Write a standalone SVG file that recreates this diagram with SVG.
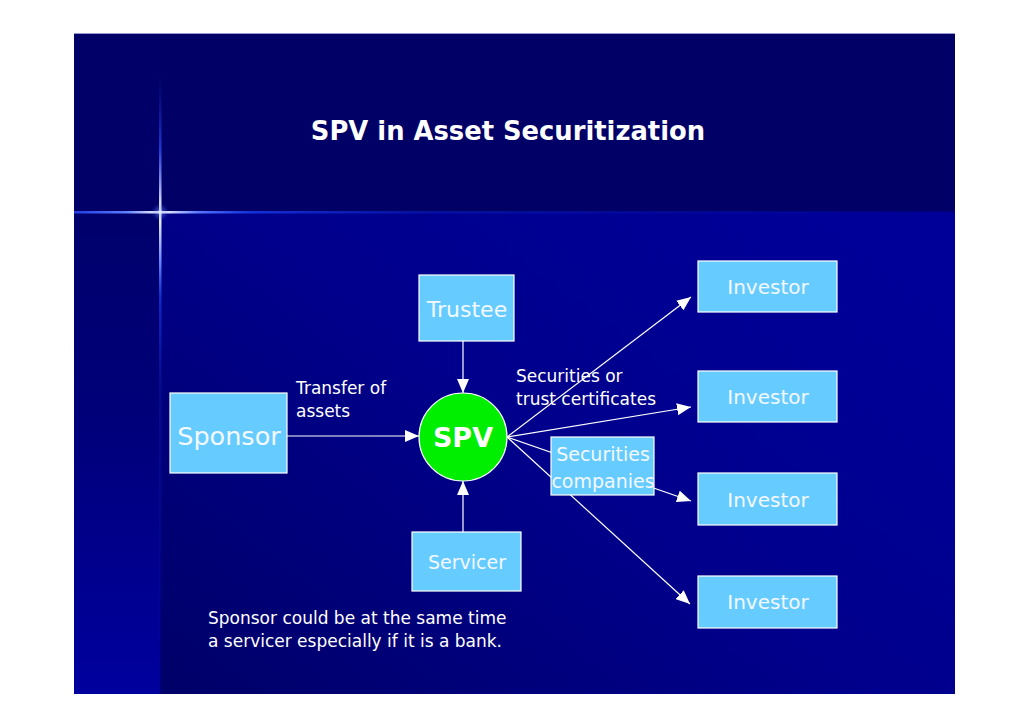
<svg xmlns="http://www.w3.org/2000/svg" width="1030" height="728" viewBox="0 0 1030 728">
  <defs>
    <linearGradient id="mainBg" x1="0" y1="1" x2="1" y2="0.2">
      <stop offset="0" stop-color="#000068"/>
      <stop offset="0.55" stop-color="#00008c"/>
      <stop offset="1" stop-color="#000098"/>
    </linearGradient>
    <linearGradient id="leftBg" x1="0" y1="0" x2="0" y2="1">
      <stop offset="0" stop-color="#00006c"/>
      <stop offset="0.4" stop-color="#000078"/>
      <stop offset="1" stop-color="#00009e"/>
    </linearGradient>
    <linearGradient id="hGlow" x1="74" y1="0" x2="955" y2="0" gradientUnits="userSpaceOnUse">
      <stop offset="0" stop-color="#2a4cff" stop-opacity="0.8"/>
      <stop offset="0.06" stop-color="#6080ff"/>
      <stop offset="0.098" stop-color="#ffffff"/>
      <stop offset="0.14" stop-color="#5a78ff"/>
      <stop offset="0.2" stop-color="#1a3cf0" stop-opacity="0.8"/>
      <stop offset="0.4" stop-color="#0a22c0" stop-opacity="0.5"/>
      <stop offset="1" stop-color="#000099" stop-opacity="0.3"/>
    </linearGradient>
    <linearGradient id="vGlow" x1="0" y1="75" x2="0" y2="694" gradientUnits="userSpaceOnUse">
      <stop offset="0" stop-color="#1a2ad0" stop-opacity="0"/>
      <stop offset="0.12" stop-color="#3050ff" stop-opacity="0.7"/>
      <stop offset="0.222" stop-color="#ffffff"/>
      <stop offset="0.3" stop-color="#6a88ff"/>
      <stop offset="0.36" stop-color="#1a3ce8" stop-opacity="0.7"/>
      <stop offset="0.5" stop-color="#0a1fb0" stop-opacity="0.4"/>
      <stop offset="1" stop-color="#000099" stop-opacity="0.3"/>
    </linearGradient>
    <radialGradient id="starGlow">
      <stop offset="0" stop-color="#ffffff" stop-opacity="0.9"/>
      <stop offset="0.3" stop-color="#8aa0ff" stop-opacity="0.4"/>
      <stop offset="1" stop-color="#3050ff" stop-opacity="0"/>
    </radialGradient>
    <marker id="arrow" viewBox="0 0 14 12" refX="14" refY="6" markerWidth="14" markerHeight="12" markerUnits="userSpaceOnUse" orient="auto">
      <path d="M0,0 L14,6 L0,12 Z" fill="#ffffff"/>
    </marker>
    <style>
      .box { fill: #66ccff; stroke: #ffffff; stroke-width: 1.2; }
      .lbl { font-family: "DejaVu Sans", Verdana, sans-serif; fill: #ffffff; }
      .node { font-family: "DejaVu Sans", Verdana, sans-serif; fill: #f4f8ff; text-anchor: middle; }
      .conn { stroke: #ffffff; stroke-width: 1.2; fill: none; }
    </style>
  </defs>

  <!-- background -->
  <rect x="0" y="0" width="1030" height="728" fill="#ffffff"/>
  <rect x="74" y="33" width="881" height="661" fill="#000066"/>
  <rect x="160" y="212" width="795" height="482" fill="url(#mainBg)"/>
  <rect x="74" y="212" width="86" height="482" fill="url(#leftBg)"/>
  <rect x="74" y="33" width="881" height="179" fill="#000066"/>
  <rect x="74" y="33" width="86" height="179" fill="#000068"/>
  <rect x="74" y="211" width="881" height="2.5" fill="url(#hGlow)"/>
  <rect x="159" y="75" width="2.5" height="619" fill="url(#vGlow)"/>
  <circle cx="160" cy="212" r="9" fill="url(#starGlow)"/>
  <line x1="74" y1="33.5" x2="955" y2="33.5" stroke="#9a9ad0" stroke-width="1"/>

  <text class="lbl" x="508" y="140" text-anchor="middle" font-size="25.8" font-weight="bold">SPV in Asset Securitization</text>

  <!-- connectors -->
  <g id="connectors">
    <line class="conn" x1="287" y1="436" x2="419" y2="436" marker-end="url(#arrow)"/>
    <line class="conn" x1="463" y1="341" x2="463" y2="393" marker-end="url(#arrow)"/>
    <line class="conn" x1="463" y1="532" x2="463" y2="481" marker-end="url(#arrow)"/>
    <line class="conn" x1="507" y1="437" x2="691" y2="297" marker-end="url(#arrow)"/>
    <line class="conn" x1="507" y1="437" x2="691" y2="407" marker-end="url(#arrow)"/>
    <line class="conn" x1="507" y1="437" x2="691" y2="501" marker-end="url(#arrow)"/>
    <line class="conn" x1="507" y1="437" x2="690" y2="604" marker-end="url(#arrow)"/>
  </g>

  <g id="sponsor">
    <rect class="box" x="170" y="393" width="117" height="80"/>
    <text class="node" x="229" y="445" font-size="25.5">Sponsor</text>
  </g>
  <g id="trustee">
    <rect class="box" x="419" y="275" width="95" height="66"/>
    <text class="node" x="467" y="317" font-size="22">Trustee</text>
  </g>
  <g id="spv">
    <circle cx="463" cy="437" r="44" fill="#00ee00" stroke="#ffffff" stroke-width="1.2"/>
    <text class="lbl" x="463" y="447" text-anchor="middle" font-size="27" font-weight="bold">SPV</text>
  </g>
  <g id="servicer">
    <rect class="box" x="412" y="532" width="109" height="59"/>
    <text class="node" x="467" y="569" font-size="19">Servicer</text>
  </g>
  <g id="securities-companies">
    <rect class="box" x="551" y="437" width="103" height="58"/>
    <text class="node" x="603" y="461" font-size="19">Securities</text>
    <text class="node" x="603" y="488" font-size="19">companies</text>
  </g>
  <g id="investor1">
    <rect class="box" x="698" y="261" width="139" height="51"/>
    <text class="node" x="768" y="294" font-size="20">Investor</text>
  </g>
  <g id="investor2">
    <rect class="box" x="698" y="371" width="139" height="51"/>
    <text class="node" x="768" y="404" font-size="20">Investor</text>
  </g>
  <g id="investor3">
    <rect class="box" x="698" y="473" width="139" height="52"/>
    <text class="node" x="768" y="507" font-size="20">Investor</text>
  </g>
  <g id="investor4">
    <rect class="box" x="698" y="576" width="139" height="52"/>
    <text class="node" x="768" y="609" font-size="20">Investor</text>
  </g>

  <g id="labels">
    <text class="lbl" x="296" y="394" font-size="17">Transfer of</text>
    <text class="lbl" x="296" y="417" font-size="17">assets</text>
    <text class="lbl" x="516" y="382" font-size="17">Securities or</text>
    <text class="lbl" x="516" y="405" font-size="17">trust certificates</text>
    <text class="lbl" x="208" y="624" font-size="17">Sponsor could be at the same time</text>
    <text class="lbl" x="208" y="647" font-size="17">a servicer especially if it is a bank.</text>
  </g>
</svg>
